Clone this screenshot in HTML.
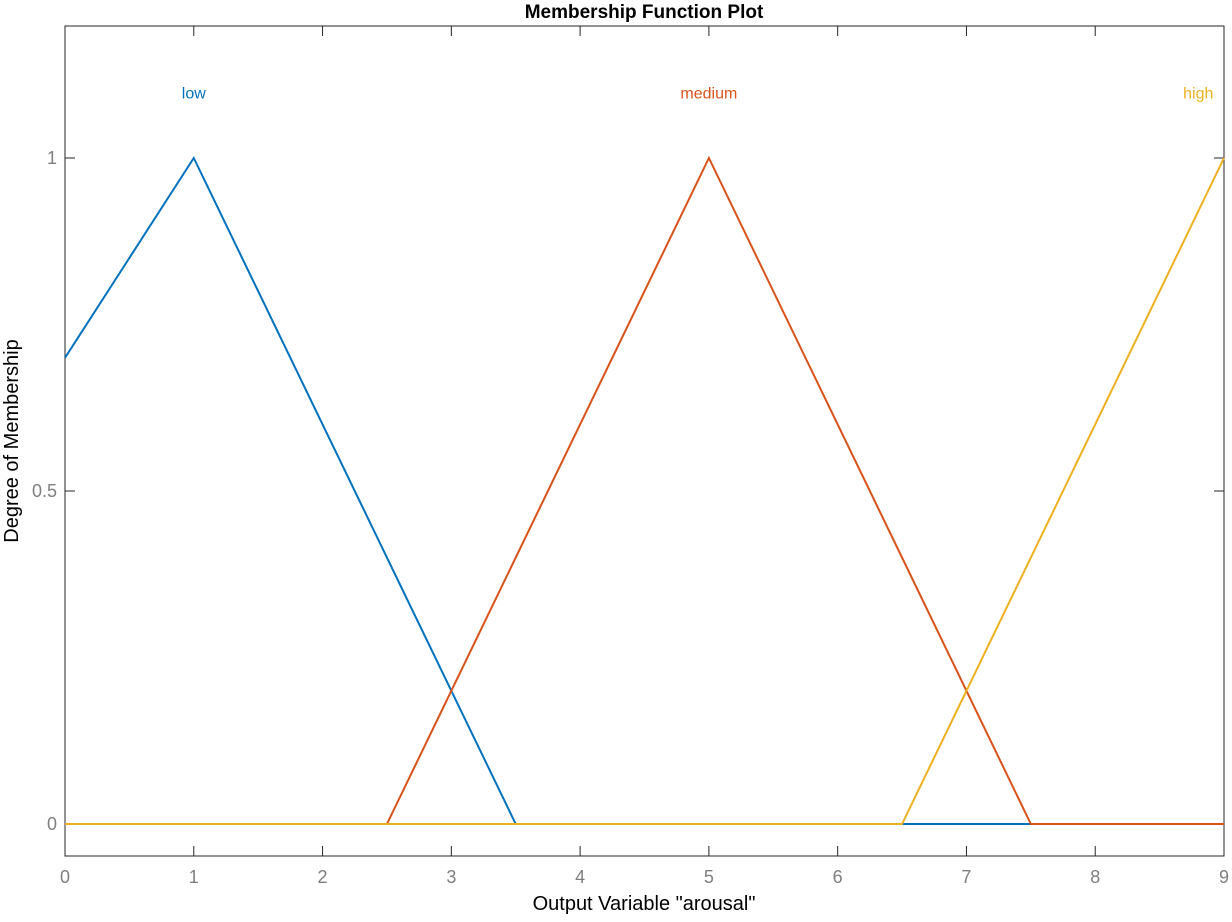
<!DOCTYPE html>
<html><head><meta charset="utf-8"><style>
body{margin:0;background:#fff;font-family:"Liberation Sans",Arial,sans-serif}
svg text{font-family:"Liberation Sans",Arial,sans-serif}
</style></head><body>
<svg id="chart" width="1232" height="917" xmlns="http://www.w3.org/2000/svg">
<rect x="0" y="0" width="1232" height="917" fill="#fff"/>
<g id="plot"></g>
</svg>
<script>
const xTicks=[0,1,2,3,4,5,6,7,8,9];
const yTicks=[0,0.5,1];
const yTickLabels=["0","0.5","1"];
const seriesNames=["low","medium","high"];
const seriesColors=["#0072BD","#D95319","#EDB120"];
const lowX=[0,1,3.5,9], lowY=[0.7,1,0,0];
const medX=[0,2.5,5,7.5,9], medY=[0,0,1,0,0];
const highX=[0,6.5,9], highY=[0,0,1];
const labelX=[1,5,8.8];
const labelY=[1.1,1.1,1.1];
const xMin=0,xMax=9;
const L=65,R=1224,T=26,B=856;
const sx=v=>L+(v-xMin)/(xMax-xMin)*(R-L);
const y0=824,y1=158;
const sy=v=>y0+(v-0)*(y1-y0);
const NS="http://www.w3.org/2000/svg";
const g=document.getElementById('plot');
function mk(t,a,p){const e=document.createElementNS(NS,t);for(const k in a)e.setAttribute(k,a[k]);(p||g).appendChild(e);return e;}
const box=mk('rect',{x:L,y:T,width:R-L,height:B-T,fill:'none',stroke:'#262626','stroke-width':1});


xTicks.forEach(v=>{
 const x=sx(v);
 const t1=mk('line',{x1:x,x2:x,y1:B,y2:B-10,stroke:'#262626'});
 
 
 const t2=mk('line',{x1:x,x2:x,y1:T,y2:T+10,stroke:'#262626'});
 
 
 const tx=mk('text',{x:x,y:883,'text-anchor':'middle','font-size':18,fill:'#7f7f7f'});
 tx.textContent=v;
 
 
});
yTicks.forEach((v,i)=>{
 const y=sy(v);
 const t1=mk('line',{x1:L,x2:L+10,y1:y,y2:y,stroke:'#262626'});
 
 
 const t2=mk('line',{x1:R,x2:R-10,y1:y,y2:y,stroke:'#262626'});
 
 
 const tx=mk('text',{x:57,y:y+6,'text-anchor':'end','font-size':18,fill:'#7f7f7f'});
 tx.textContent=yTickLabels[i];
 
 
});
[[lowX,lowY],[medX,medY],[highX,highY]].forEach((s,i)=>{
 const pts=s[0].map((x,j)=>sx(x)+','+sy(s[1][j])).join(' ');
 const pl=mk('polyline',{points:pts,fill:'none',stroke:seriesColors[i],'stroke-width':2});
 
 
 const lb=mk('text',{x:sx(labelX[i]),y:sy(labelY[i])+7,'text-anchor':'middle','font-size':16,fill:seriesColors[i]});
 lb.textContent=seriesNames[i];
 
 
});
const ti=mk('text',{x:644,y:18,'text-anchor':'middle','font-size':19,'font-weight':'bold',fill:'#000'});
ti.textContent='Membership Function Plot';


const xl=mk('text',{x:644,y:910,'text-anchor':'middle','font-size':20,fill:'#000'});
xl.textContent='Output Variable "arousal"';


const yl=mk('text',{x:0,y:0,'text-anchor':'middle','font-size':20,fill:'#000',transform:'translate(18,441) rotate(-90)'});
yl.textContent='Degree of Membership';


</script>
</body></html>
